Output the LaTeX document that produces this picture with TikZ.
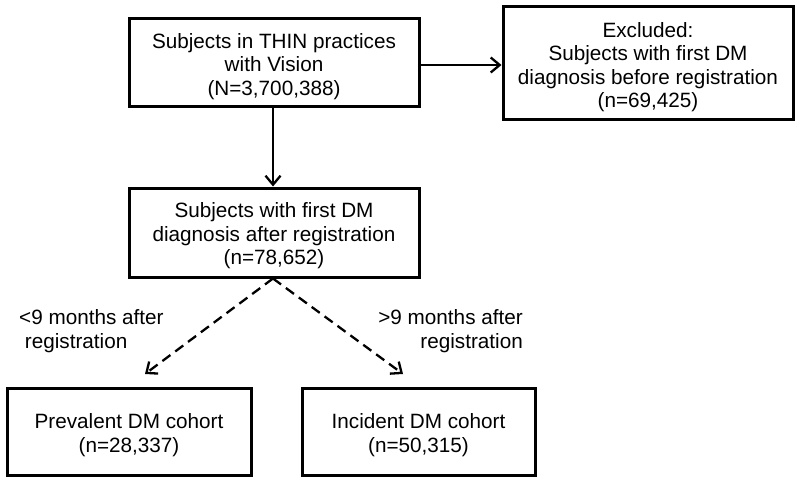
\documentclass[tikz,border=0pt]{standalone}
\usepackage{fontspec}
\setmainfont{Liberation Sans}
\usetikzlibrary{arrows.meta}
\newcommand{\toppad}{\rule{0pt}{22pt}}
\begin{document}
\begin{tikzpicture}[x=1pt,y=-1pt,
  box/.style={draw=black, line width=3pt, fill=white, align=center, inner sep=0pt,
    font=\fontsize{20.7}{23.5}\selectfont},
  lbl/.style={inner sep=0pt, font=\fontsize{20.7}{23.5}\selectfont},
  arr/.style={line width=2.3pt, -{Straight Barb[length=9pt,width=15pt,line width=2.3pt]}},
  darr/.style={arr, dash pattern=on 10pt off 6pt}]
\useasboundingbox (0,0) rectangle (800,484);
\node[box, minimum width=290pt, minimum height=88pt] (b1) at (274,63)
  {\toppad Subjects in THIN practices\\with Vision\\(N=3,700,388)};
\node[box, minimum width=290pt, minimum height=113pt] (b2) at (648,63.5)
  {\toppad Excluded:\\Subjects with first DM\\diagnosis before registration\\(n=69,425)};
\node[box, minimum width=290pt, minimum height=89pt] (b3) at (274,232.5)
  {\toppad Subjects with first DM\\diagnosis after registration\\(n=78,652)};
\node[box, minimum width=244pt, minimum height=87pt] (b4) at (129,431.5)
  {\toppad Prevalent DM cohort\\(n=28,337)};
\node[box, minimum width=233pt, minimum height=87pt] (b5) at (418.5,431.5)
  {\toppad Incident DM cohort\\(n=50,315)};
\coordinate (tl) at (145,374);
\coordinate (tr) at (403,374);
\draw[arr] (b1.east |- 0,65) -- (b2.west |- 0,65);
\draw[arr] (b1.south -| 273,0) -- (b3.north -| 273,0);
\draw[darr] (b3.south -| 273,0) -- (tl);
\draw[darr] (b3.south -| 273,0) -- (tr);
\node[lbl, anchor=west, align=left] (ll) at (19,331) {<9 months after\\\ registration};
\node[lbl, anchor=east, align=right] (lr) at (523,331) {>9 months after\\registration};
\end{tikzpicture}
\end{document}
